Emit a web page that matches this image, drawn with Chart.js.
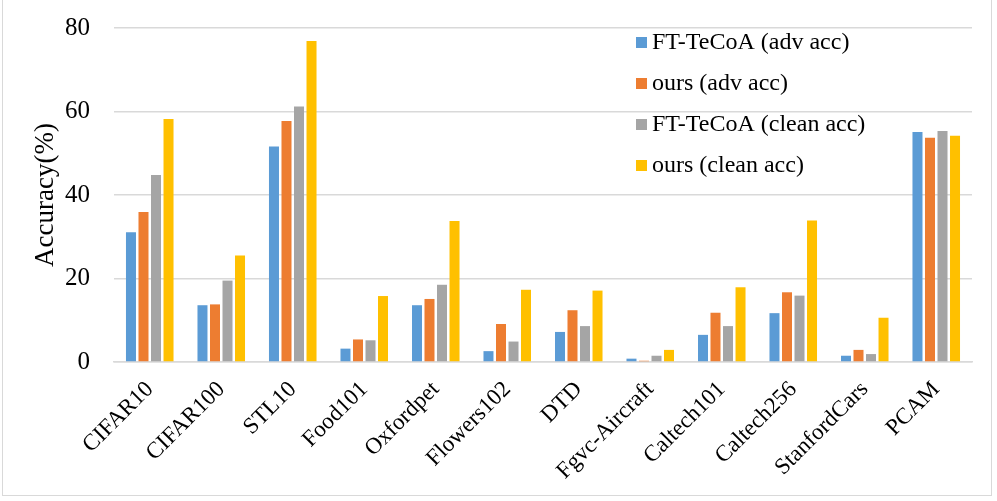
<!DOCTYPE html>
<html lang="en">
<head>
  <meta charset="UTF-8">
  <title>Accuracy</title>
  <script src="https://cdn.jsdelivr.net/npm/chart.js"></script>
  <style>
    body { margin: 0; background: #fff; }
    .frame {
      position: absolute; left: 2px; top: 0px; width: 990px; height: 496px;
      border: 1px solid #d9d9d9; border-top: none; box-sizing: border-box;
    }
    .wrap { position: absolute; left: 0; top: 0; width: 997px; height: 501px; }
  </style>
</head>
<body>
  <div class="frame"></div>
  <div class="wrap"><canvas id="bars"></canvas></div>

  <script>
    const datasetNames = ['CIFAR10', 'CIFAR100', 'STL10', 'Food101', 'Oxfordpet', 'Flowers102',
      'DTD', 'Fgvc-Aircraft', 'Caltech101', 'Caltech256', 'StanfordCars', 'PCAM'];
    const tecoaAdv   = [31.1, 13.6, 51.6, 3.2, 13.6, 2.6, 7.2, 0.8, 6.5, 11.7, 1.5, 55.1];
    const oursAdv    = [35.9, 13.8, 57.7, 5.4, 15.1, 9.1, 12.4, 0.3, 11.8, 16.7, 2.9, 53.7];
    const tecoaClean = [44.8, 19.5, 61.2, 5.2, 18.5, 4.9, 8.6, 1.5, 8.6, 15.9, 1.9, 55.3];
    const oursClean  = [58.2, 25.5, 76.9, 15.8, 33.8, 17.3, 17.1, 2.9, 17.9, 33.9, 10.6, 54.2];
    const yTicks = [0, 20, 40, 60, 80];

    const serif = "'Liberation Serif', 'Times New Roman', serif";

    // legend drawn inside the plot, like the Excel original
    const innerLegend = {
      id: 'innerLegend',
      afterDraw(chart) {
        const c = chart.ctx;
        c.save();
        c.font = '24px ' + serif;
        c.textBaseline = 'middle';
        chart.data.datasets.forEach((ds, i) => {
          const y = 42 + i * 41;
          c.fillStyle = ds.backgroundColor;
          c.fillRect(636, y - 5, 11, 11);
          c.fillStyle = '#000';
          c.fillText(ds.label, 652, y + 1);
        });
        c.restore();
      }
    };

    new Chart(document.getElementById('bars'), {
      type: 'bar',
      data: {
        labels: datasetNames,
        datasets: [
          { label: 'FT-TeCoA (adv acc)', data: tecoaAdv, backgroundColor: '#5B9BD5' },
          { label: 'ours (adv acc)', data: oursAdv, backgroundColor: '#ED7D31' },
          { label: 'FT-TeCoA (clean acc)', data: tecoaClean, backgroundColor: '#A5A5A5' },
          { label: 'ours (clean acc)', data: oursClean, backgroundColor: '#FFC000' }
        ]
      },
      options: {
        responsive: true,
        maintainAspectRatio: false,
        animation: false,
        datasets: { bar: { categoryPercentage: 0.7, barPercentage: 0.8 } },
        layout: { padding: { left: 32, right: 25, top: 28, bottom: 0 } },
        scales: {
          x: {
            grid: { display: false },
            border: { color: '#d9d9d9', width: 1.5 },
            ticks: {
              color: '#000', font: { family: serif, size: 23 },
              maxRotation: 45, minRotation: 45, padding: 6
            },
            afterFit(scale) { scale.height = 139; }
          },
          y: {
            min: 0, max: 80,
            afterBuildTicks(scale) { scale.ticks = yTicks.map(v => ({ value: v })); },
            grid: { color: '#d9d9d9', lineWidth: 1.5, drawTicks: false },
            border: { display: false },
            ticks: { color: '#000', font: { family: serif, size: 25, lineHeight: 1 }, padding: 24 },
            title: {
              display: true, text: 'Accuracy(%)', color: '#000',
              font: { family: serif, size: 27, lineHeight: 1 }, padding: { top: 0, bottom: 4 }
            },
            afterFit(scale) { scale.width = 82; scale.paddingTop = 0; }
          }
        },
        plugins: {
          legend: { display: false },
          tooltip: { enabled: false }
        }
      },
      plugins: [innerLegend]
    });
  </script>
</body>
</html>
